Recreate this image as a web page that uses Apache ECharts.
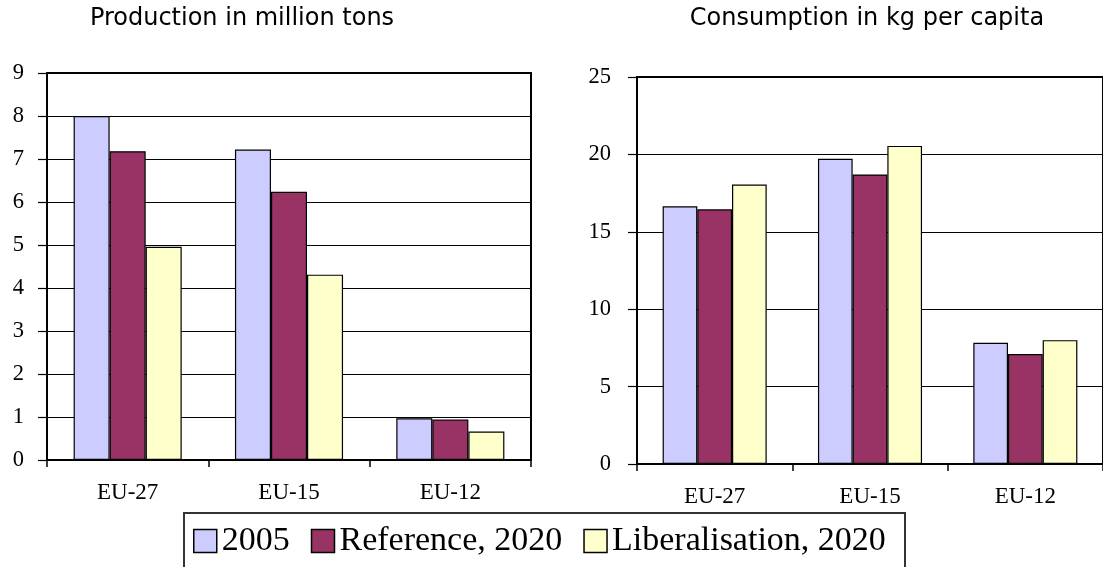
<!DOCTYPE html>
<html>
<head>
<meta charset="utf-8">
<title>Production and consumption, EU</title>
<script src="https://cdn.jsdelivr.net/npm/echarts@6/dist/echarts.min.js"></script>
<style>
  html, body { margin: 0; padding: 0; background: #ffffff; }
  #chart { width: 1103px; height: 567px; }
</style>
</head>
<body>
<div id="chart"></div>
<script>
// Regions on the category axis
const regions = ['EU-27', 'EU-15', 'EU-12'];

// Scenario names (legend order)
const scenarios = ['2005', 'Reference, 2020', 'Liberalisation, 2020'];

// Production in million tons
const production2005 = [8.0, 7.22, 0.97];
const productionReference = [7.18, 6.24, 0.94];
const productionLiberalisation = [4.96, 4.31, 0.66];

// Consumption in kg per capita
const consumption2005 = [16.65, 19.72, 7.83];
const consumptionReference = [16.45, 18.7, 7.1];
const consumptionLiberalisation = [18.05, 20.55, 8.0];

// Value axis ticks
const productionTicks = { min: 0, max: 9, interval: 1 };
const consumptionTicks = { min: 0, max: 25, interval: 5 };

const colors = ['#CCCCFF', '#993366', '#FFFFCC'];
const serif = 'Liberation Serif';

const chart = echarts.init(document.getElementById('chart'), null, { renderer: 'canvas' });

function categoryAxis(gridIndex) {
  return {
    type: 'category',
    gridIndex: gridIndex,
    data: regions,
    boundaryGap: true,
    axisLine: { show: true, lineStyle: { color: '#000', width: 1.5 } },
    axisTick: { show: true, alignWithLabel: false, length: 7, lineStyle: { color: '#000', width: 1.5 } },
    axisLabel: { color: '#000', fontFamily: serif, fontSize: 23, margin: 21 },
    splitLine: { show: false }
  };
}

function valueAxis(gridIndex, ticks, margin) {
  return {
    type: 'value',
    gridIndex: gridIndex,
    min: ticks.min,
    max: ticks.max,
    interval: ticks.interval,
    axisLine: { show: true, lineStyle: { color: '#000', width: 2 } },
    axisTick: { show: true, inside: false, length: 9, lineStyle: { color: '#000', width: 1.2 } },
    axisLabel: { color: '#000', fontFamily: serif, fontSize: 22.5, margin: margin },
    splitLine: { show: true, lineStyle: { color: '#000', width: 1 } }
  };
}

function barSeries(name, data, idx, axisIndex) {
  return {
    name: name,
    type: 'bar',
    xAxisIndex: axisIndex,
    yAxisIndex: axisIndex,
    data: data,
    barGap: '0%',
    barCategoryGap: '33%',
    itemStyle: { color: colors[idx], borderColor: '#000', borderWidth: 1.2 },
    emphasis: { disabled: true },
    z: 3
  };
}

const option = {
  animation: false,
  backgroundColor: '#ffffff',
  grid: [
    { left: 47, top: 73, width: 484, height: 387, show: true, borderColor: '#000', borderWidth: 2, backgroundColor: 'transparent' },
    { left: 637, top: 77, width: 467, height: 387, show: true, borderColor: '#000', borderWidth: 2, backgroundColor: 'transparent' }
  ],
  xAxis: [categoryAxis(0), categoryAxis(1)],
  yAxis: [valueAxis(0, productionTicks, 23), valueAxis(1, consumptionTicks, 26)],
  legend: {
    data: scenarios,
    left: 193,
    top: 524,
    padding: 0,
    itemWidth: 23,
    itemHeight: 23,
    itemGap: 21,
    icon: 'rect',
    selectedMode: false,
    itemStyle: { borderColor: '#000', borderWidth: 1.5 },
    textStyle: { color: '#000', fontFamily: serif, fontSize: 34 }
  },
  graphic: [
    {
      type: 'text',
      style: {
        x: 242, y: 19,
        text: 'Production in million tons',
        fill: '#000',
        font: '24px "DejaVu Sans"',
        textAlign: 'center',
        textVerticalAlign: 'middle'
      }
    },
    {
      type: 'text',
      style: {
        x: 867, y: 19,
        text: 'Consumption in kg per capita',
        fill: '#000',
        font: '24px "DejaVu Sans"',
        textAlign: 'center',
        textVerticalAlign: 'middle'
      }
    },
    {
      type: 'rect',
      shape: { x: 184, y: 513, width: 721, height: 100 },
      style: { fill: 'none', stroke: '#333', lineWidth: 2 },
      z: 0
    }
  ],
  series: [
    barSeries(scenarios[0], production2005, 0, 0),
    barSeries(scenarios[1], productionReference, 1, 0),
    barSeries(scenarios[2], productionLiberalisation, 2, 0),
    barSeries(scenarios[0], consumption2005, 0, 1),
    barSeries(scenarios[1], consumptionReference, 1, 1),
    barSeries(scenarios[2], consumptionLiberalisation, 2, 1)
  ]
};

chart.setOption(option);
</script>
</body>
</html>
